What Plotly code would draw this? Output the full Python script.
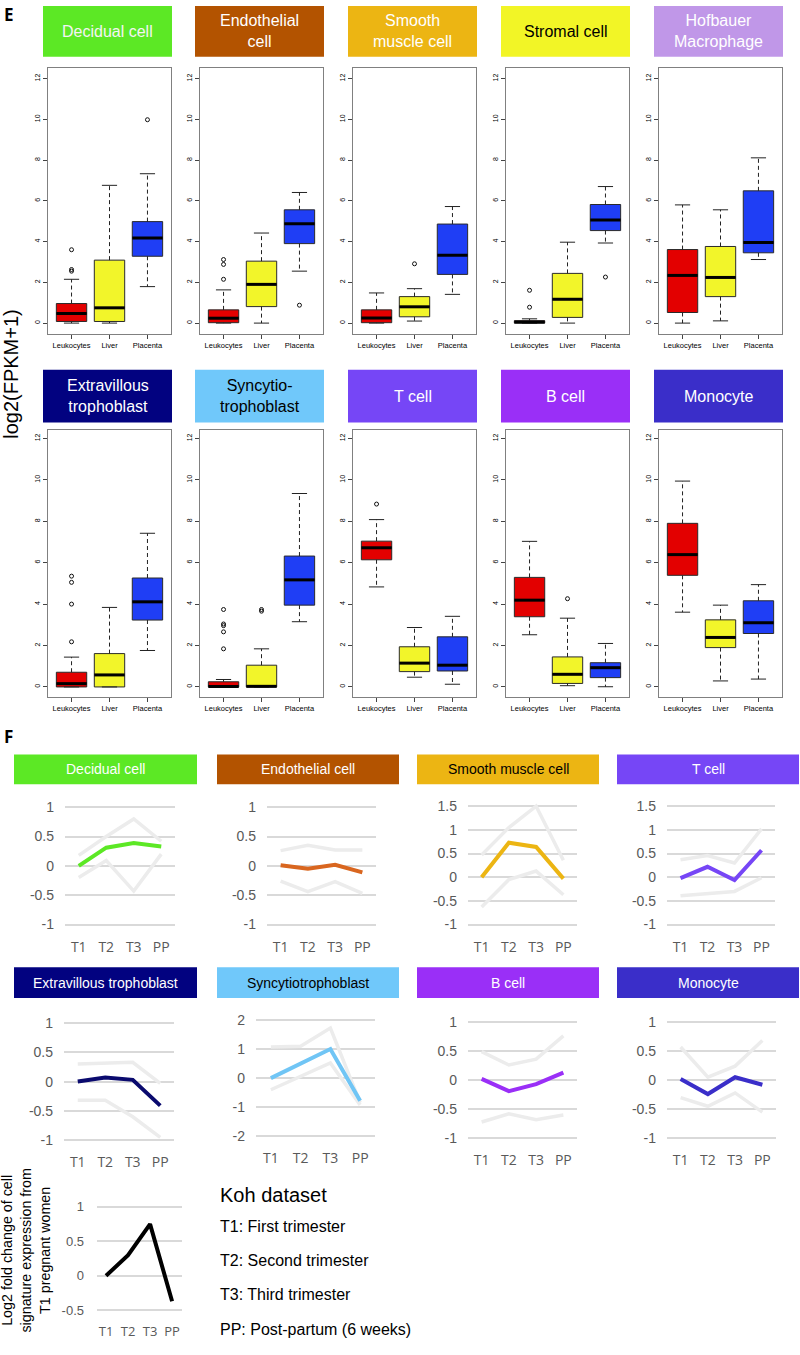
import plotly.graph_objects as go

W, H = 800, 1355

# ---------------- Panel E : boxplots ----------------
E_titles = ["Decidual cell", "Endothelial<br>cell", "Smooth<br>muscle cell", "Stromal cell",
            "Hofbauer<br>Macrophage", "Extravillous<br>trophoblast", "Syncytio-<br>trophoblast",
            "T cell", "B cell", "Monocyte"]
E_title_colors = ["#5ce825", "#b35300", "#ecb513", "#f2f526", "#c097e8",
                  "#020280", "#70c8fa", "#7646f6", "#9a2ff7", "#3a2ec9"]
E_text_colors = ["#f4f4f4", "white", "white", "black", "white",
                 "white", "black", "white", "white", "white"]
tissues = ["Leukocytes", "Liver", "Placenta"]
tissue_colors = ["#e30000", "#f2f52a", "#1f3ef5"]

box_low = [
    [0.0, 0.0, 1.79], [0.0, 0.0, 2.55], [0.0, 0.1, 1.41], [0.0, 0.0, 3.93], [0.0, 0.11, 3.12],
    [0.0, 0.0, 1.76], [0.0, 0.0, 3.15], [4.83, 0.47, 0.13], [2.52, 0.06, 0.01], [3.61, 0.29, 0.38],
]
box_q1 = [
    [0.08, 0.08, 3.28], [0.02, 0.81, 3.9], [0.02, 0.31, 2.39], [0.0, 0.28, 4.54], [0.52, 1.3, 3.45],
    [0.0, 0.0, 3.23], [0.0, 0.0, 3.95], [6.14, 0.74, 0.77], [3.39, 0.17, 0.45], [5.39, 1.9, 2.58],
]
box_med = [
    [0.47, 0.75, 4.18], [0.24, 1.9, 4.88], [0.25, 0.8, 3.33], [0.05, 1.17, 5.06], [2.34, 2.24, 3.95],
    [0.16, 0.58, 4.11], [0.02, 0.03, 5.17], [6.72, 1.15, 1.05], [4.19, 0.61, 0.93], [6.39, 2.39, 3.1],
]
box_q3 = [
    [0.96, 3.09, 4.98], [0.65, 3.04, 5.56], [0.65, 1.3, 4.86], [0.12, 2.44, 5.82], [3.61, 3.76, 6.49],
    [0.71, 1.61, 5.26], [0.25, 1.05, 6.32], [7.04, 1.94, 2.42], [5.29, 1.45, 1.17], [7.9, 3.24, 4.16],
]
box_high = [
    [2.15, 6.76, 7.33], [1.63, 4.42, 6.41], [1.48, 1.69, 5.72], [0.21, 3.97, 6.7], [5.8, 5.56, 8.11],
    [1.44, 3.84, 7.42], [0.36, 1.84, 9.34], [8.08, 2.87, 3.41], [7.03, 3.32, 2.1], [9.94, 3.95, 4.94],
]
# outliers: (tissue index, value) per panel
out_tissue = [
    [0, 0, 0, 2], [0, 0, 0, 2], [1], [0, 0, 2], [],
    [0, 0, 0, 0], [0, 0, 0, 0, 0, 1, 1], [0], [1], [],
]
out_value = [
    [2.55, 2.63, 3.6, 9.98], [2.15, 2.88, 3.12, 0.88], [2.91], [0.78, 1.61, 2.26], [],
    [2.18, 4.0, 5.05, 5.35], [1.84, 2.66, 2.96, 3.04, 3.74, 3.66, 3.74], [8.83], [4.26], [],
]
E_yticks = [0, 2, 4, 6, 8, 10, 12]

# ---------------- Panel F : line charts ----------------
timepoints = ["T1", "T2", "T3", "PP"]
F_titles = ["Decidual cell", "Endothelial cell", "Smooth muscle cell", "T cell",
            "Extravillous trophoblast", "Syncytiotrophoblast", "B cell", "Monocyte"]
F_box_colors = ["#5ce825", "#b35300", "#ecb513", "#7646f6", "#020280", "#70c8fa", "#9a2ff7", "#3a2ec9"]
F_text_colors = ["white", "white", "black", "white", "white", "black", "white", "white"]
F_line_colors = ["#5ce825", "#d9661f", "#ecb513", "#7646f6", "#0a0a6e", "#70c5f5", "#9a2ff7", "#3a2ec9"]
F_mean = [
    [0.0, 0.31, 0.39, 0.33], [0.01, -0.05, 0.02, -0.11], [0.0, 0.73, 0.64, -0.03], [-0.02, 0.22, -0.06, 0.57],
    [0.0, 0.07, 0.03, -0.41], [0.0, 0.5, 1.0, -0.78], [0.02, -0.19, -0.07, 0.13], [0.02, -0.24, 0.05, -0.08],
]
F_upper = [
    [0.18, 0.5, 0.8, 0.42], [0.26, 0.35, 0.27, 0.27], [0.47, 1.05, 1.5, 0.36], [0.37, 0.46, 0.3, 1.02],
    [0.3, 0.32, 0.33, -0.03], [1.07, 1.1, 1.72, -0.84], [0.49, 0.26, 0.36, 0.76], [0.57, 0.05, 0.24, 0.68],
]
F_lower = [
    [-0.2, 0.09, -0.43, 0.2], [-0.26, -0.44, -0.27, -0.47], [-0.63, -0.05, 0.13, -0.37], [-0.39, -0.35, -0.3, -0.01],
    [-0.32, -0.32, -0.6, -0.95], [-0.4, 0.05, 0.52, -0.92], [-0.72, -0.58, -0.68, -0.6], [-0.3, -0.45, -0.22, -0.55],
]
F_yticks = [
    [-1, -0.5, 0, 0.5, 1], [-1, -0.5, 0, 0.5, 1], [-1, -0.5, 0, 0.5, 1, 1.5], [-1, -0.5, 0, 0.5, 1, 1.5],
    [-1, -0.5, 0, 0.5, 1], [-2, -1, 0, 1, 2], [-1, -0.5, 0, 0.5, 1], [-1, -0.5, 0, 0.5, 1],
]
overall_mean = [0.0, 0.3, 0.75, -0.37]
overall_yticks = [-0.5, 0, 0.5, 1]

legend_title = "Koh dataset"
legend_lines = ["T1: First trimester", "T2: Second trimester", "T3: Third trimester", "PP: Post-partum (6 weeks)"]

# ---------------- layout geometry (pixels) ----------------
E_left = [48, 200, 353, 506, 659]
E_w = 123
E_frame_rows = [(64, 332), (429, 697)]
E_zero12_rows = [(321, 75), (687, 437)]
E_title_rows = [(2, 53), (368, 421)]

F_grid_x = [(65, 175), (267, 376), (468, 577), (667, 775), (64, 174), (256, 375), (468, 577), (667, 776)]
F_ymap = [(808, 1, 926, -1), (808, 1, 926, -1), (807, 1.5, 926, -1), (807, 1.5, 926, -1),
          (1025, 1, 1143, -1), (1022, 2, 1139, -2), (1024, 1, 1141, -1), (1024, 1, 1141, -1)]
F_title_x = [(14, 197), (217, 399), (417, 599), (617, 799)]
F_title_rows = [(755, 785), (969, 1000)]


def fmt(v):
    return "%g" % v


def names(k):
    sx = "" if k == 1 else str(k)
    return "x" + sx, "y" + sx, "xaxis" + sx, "yaxis" + sx


fig = go.Figure()
layout = {}
shapes = []
annotations = []

k = 0
# ---- E panels ----
for i in range(10):
    k += 1
    xr, yr, xa, ya = names(k)
    row, col = divmod(i, 5)
    left = E_left[col]
    top, bot = E_frame_rows[row]
    p0, p12 = E_zero12_rows[row]
    per = (p0 - p12) / 12.0
    yrng = [-(bot - p0) / per, (p0 - top) / per]
    layout[xa] = dict(domain=[left / W, (left + E_w) / W], range=[0.38, 3.62], showgrid=False,
                      zeroline=False, showline=True, mirror=True, linecolor="#808080", linewidth=1,
                      tickmode="array", tickvals=[1, 2, 3], ticktext=tissues, ticks="outside",
                      ticklen=4, tickcolor="#444", tickfont=dict(family="Liberation Sans", size=7.5, color="black"),
                      anchor=yr, fixedrange=True)
    layout[ya] = dict(domain=[1 - bot / H, 1 - top / H], range=yrng, showgrid=False, zeroline=False,
                      showline=True, mirror=True, linecolor="#808080", linewidth=1,
                      tickmode="array", tickvals=E_yticks, ticktext=[str(t) for t in E_yticks],
                      ticks="outside", ticklen=4, tickcolor="#444", tickangle=-90,
                      tickfont=dict(family="Liberation Sans", size=7, color="black"),
                      anchor=xr, fixedrange=True)
    # title box
    ttop, tbot = E_title_rows[row]
    shapes.append(dict(type="rect", xref="paper", yref="paper", x0=(left - 5) / W, x1=(left + 124) / W,
                       y0=1 - tbot / H, y1=1 - ttop / H, fillcolor=E_title_colors[i], line=dict(width=0)))
    annotations.append(dict(xref="paper", yref="paper", x=(left + 59.5) / W, y=1 - (ttop + tbot) / 2 / H,
                            text=E_titles[i], showarrow=False, xanchor="center", yanchor="middle",
                            font=dict(family="Liberation Sans", size=16, color=E_text_colors[i])))
    wx, wy, cx, cy, mx, my = [], [], [], [], [], []
    for j in range(3):
        p = j + 1
        fig.add_trace(go.Box(x=[p], q1=[box_q1[i][j]], median=[box_med[i][j]], q3=[box_q3[i][j]],
                             lowerfence=[box_q1[i][j]], upperfence=[box_q3[i][j]], width=0.8,
                             fillcolor=tissue_colors[j], line=dict(color="#2a2a2a", width=1),
                             whiskerwidth=0, boxpoints=False, xaxis=xr, yaxis=yr, showlegend=False,
                             hoverinfo="skip"))
        wx += [p, p, None, p, p, None]
        wy += [box_q3[i][j], box_high[i][j], None, box_q1[i][j], box_low[i][j], None]
        cx += [p - 0.2, p + 0.2, None, p - 0.2, p + 0.2, None]
        cy += [box_high[i][j], box_high[i][j], None, box_low[i][j], box_low[i][j], None]
        mx += [p - 0.4, p + 0.4, None]
        my += [box_med[i][j], box_med[i][j], None]
    fig.add_trace(go.Scatter(x=wx, y=wy, mode="lines", line=dict(color="#222", width=1, dash="4px,3px"),
                             xaxis=xr, yaxis=yr, showlegend=False, hoverinfo="skip"))
    fig.add_trace(go.Scatter(x=cx, y=cy, mode="lines", line=dict(color="#222", width=1),
                             xaxis=xr, yaxis=yr, showlegend=False, hoverinfo="skip"))
    fig.add_trace(go.Scatter(x=mx, y=my, mode="lines", line=dict(color="black", width=3),
                             xaxis=xr, yaxis=yr, showlegend=False, hoverinfo="skip"))
    if out_value[i]:
        fig.add_trace(go.Scatter(x=[t + 1 for t in out_tissue[i]], y=out_value[i], mode="markers",
                                 marker=dict(symbol="circle-open", size=4, color="#111", line=dict(width=1)),
                                 xaxis=xr, yaxis=yr, showlegend=False, hoverinfo="skip", cliponaxis=False))

# ---- F panels ----
pad = 4
for i in range(8):
    k += 1
    xr, yr, xa, ya = names(k)
    row, col = divmod(i, 4)
    gx0, gx1 = F_grid_x[i]
    pt, vt, pb, vb = F_ymap[i]
    per = (pb - pt) / (vt - vb)
    layout[xa] = dict(domain=[gx0 / W, gx1 / W], range=[-0.5, 3.5], showgrid=False, zeroline=False,
                      showline=False, tickmode="array", tickvals=[0, 1, 2, 3], ticktext=timepoints,
                      ticks="", ticklabelstandoff=8,
                      tickfont=dict(family="Open Sans", size=14, color="#595959"), anchor=yr, fixedrange=True)
    layout[ya] = dict(domain=[1 - (pb + pad) / H, 1 - (pt - pad) / H],
                      range=[vb - pad / per, vt + pad / per], showgrid=True, gridcolor="#d9d9d9",
                      gridwidth=1.5, zeroline=False, showline=False, tickmode="array",
                      tickvals=F_yticks[i], ticktext=[fmt(t) for t in F_yticks[i]], ticks="",
                      ticklabelstandoff=10, tickfont=dict(family="Liberation Sans", size=14, color="#595959"),
                      anchor=xr, fixedrange=True)
    tx0, tx1 = F_title_x[col]
    ttop, tbot = F_title_rows[row]
    shapes.append(dict(type="rect", xref="paper", yref="paper", x0=tx0 / W, x1=tx1 / W,
                       y0=1 - tbot / H, y1=1 - ttop / H, fillcolor=F_box_colors[i], line=dict(width=0)))
    annotations.append(dict(xref="paper", yref="paper", x=(tx0 + tx1) / 2 / W, y=1 - (ttop + tbot) / 2 / H,
                            text=F_titles[i], showarrow=False, xanchor="center", yanchor="middle",
                            font=dict(family="Liberation Sans", size=14, color=F_text_colors[i])))
    for series in (F_upper[i], F_lower[i]):
        fig.add_trace(go.Scatter(x=[0, 1, 2, 3], y=series, mode="lines",
                                 line=dict(color="#ececec", width=3.5), xaxis=xr, yaxis=yr,
                                 showlegend=False, hoverinfo="skip"))
    fig.add_trace(go.Scatter(x=[0, 1, 2, 3], y=F_mean[i], mode="lines",
                             line=dict(color=F_line_colors[i], width=4), xaxis=xr, yaxis=yr,
                             showlegend=False, hoverinfo="skip"))

# ---- overall (legend) panel ----
k += 1
xr, yr, xa, ya = names(k)
pt, vt, pb, vb = 1210, 1, 1314, -0.5
per = (pb - pt) / (vt - vb)
layout[xa] = dict(domain=[97 / W, 182 / W], range=[-0.41, 3.45], showgrid=False, zeroline=False,
                  showline=False, tickmode="array", tickvals=[0, 1, 2, 3], ticktext=timepoints, ticks="",
                  ticklabelstandoff=8, tickfont=dict(family="Open Sans", size=13, color="#595959"),
                  anchor=yr, fixedrange=True)
layout[ya] = dict(domain=[1 - (pb + pad) / H, 1 - (pt - pad) / H], range=[vb - pad / per, vt + pad / per],
                  showgrid=True, gridcolor="#d9d9d9", gridwidth=1.5, zeroline=False, showline=False,
                  tickmode="array", tickvals=overall_yticks, ticktext=[fmt(t) for t in overall_yticks],
                  ticks="", ticklabelstandoff=12,
                  tickfont=dict(family="Liberation Sans", size=13, color="#595959"), anchor=xr, fixedrange=True)
fig.add_trace(go.Scatter(x=[0, 1, 2, 3], y=overall_mean, mode="lines", line=dict(color="black", width=4),
                         xaxis=xr, yaxis=yr, showlegend=False, hoverinfo="skip"))

# ---- free text ----
annotations.append(dict(xref="paper", yref="paper", x=2 / W, y=1 - 11 / H, text="<b>E</b>", showarrow=False,
                        xanchor="left", yanchor="middle", font=dict(family="Open Sans", size=17, color="black")))
annotations.append(dict(xref="paper", yref="paper", x=2 / W, y=1 - 737 / H, text="<b>F</b>", showarrow=False,
                        xanchor="left", yanchor="middle", font=dict(family="Open Sans", size=17, color="black")))
annotations.append(dict(xref="paper", yref="paper", x=11 / W, y=1 - 372 / H, text="log2(FPKM+1)",
                        showarrow=False, textangle=-90, xanchor="center", yanchor="middle",
                        font=dict(family="Liberation Sans", size=20, color="black")))
annotations.append(dict(xref="paper", yref="paper", x=26 / W, y=1 - 1254 / H,
                        text="Log2 fold change of cell<br>signature expression from<br>T1 pregnant women",
                        showarrow=False, textangle=-90, xanchor="center", yanchor="middle",
                        font=dict(family="Liberation Sans", size=14.3, color="black")))
annotations.append(dict(xref="paper", yref="paper", x=218 / W, y=1 - 1198 / H, text=legend_title,
                        showarrow=False, xanchor="left", yanchor="middle",
                        font=dict(family="Liberation Sans", size=20, color="black")))
for n, line in enumerate(legend_lines):
    annotations.append(dict(xref="paper", yref="paper", x=218 / W, y=1 - (1230 + 34.3 * n) / H, text=line,
                            showarrow=False, xanchor="left", yanchor="middle",
                            font=dict(family="Liberation Sans", size=16, color="black")))

fig.update_layout(width=W, height=H, margin=dict(l=0, r=0, t=0, b=0), paper_bgcolor="white",
                  plot_bgcolor="white", showlegend=False, boxmode="overlay",
                  shapes=shapes, annotations=annotations, **layout)

fig.write_html("out.html", config={"displayModeBar": False},
               post_script="document.body.style.margin='0px';")
